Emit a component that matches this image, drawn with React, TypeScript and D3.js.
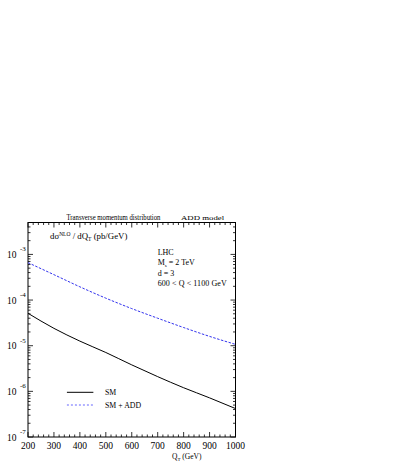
import React from "react";
import * as d3 from "d3";

const qT = [200, 300, 400, 500, 600, 700, 800, 900, 1000];
const smValues = [5.13e-5, 2.4e-5, 1.26e-5, 7.1e-6, 3.8e-6, 2.1e-6, 1.2e-6, 7.2e-7, 4.2e-7];
const addValues = [6.6e-4, 3.6e-4, 1.95e-4, 1.1e-4, 6.5e-5, 4.0e-5, 2.5e-5, 1.6e-5, 1.07e-5];
const xTickValues = [200, 300, 400, 500, 600, 700, 800, 900, 1000];
const yDecades = [-3, -4, -5, -6, -7];
const infoLines = ["LHC", "M_s = 2 TeV", "d = 3", "600 < Q <  1100 GeV"];

const W = 409, H = 463;
const L = 28, R = 235.5, T = 222.5, B = 437;
const FONT = "'Liberation Serif', 'Times New Roman', serif";

export default function App() {
  const x = d3.scaleLinear().domain([200, 1000]).range([L, R]);
  const y = d3.scaleLog().domain([1e-7, 5e-3]).range([B, T]);

  const line = d3.line<number>()
    .x((_, i) => x(qT[i]))
    .y((d) => y(d))
    .curve(d3.curveMonotoneX);

  const xMinor = d3.range(200, 1001, 20);
  const yMinor: number[] = [];
  for (let e = -7; e <= -3; e++) {
    for (let m = 1; m <= 9; m++) {
      const v = m * Math.pow(10, e);
      if (v >= 1e-7 && v <= 5e-3) yMinor.push(v);
    }
  }

  const ticks: JSX.Element[] = [];
  xMinor.forEach((v) => {
    const major = v % 100 === 0;
    const len = major ? 5 : 2.5;
    const px = x(v);
    ticks.push(<line key={"xb" + v} x1={px} x2={px} y1={B} y2={B - len} />);
    ticks.push(<line key={"xt" + v} x1={px} x2={px} y1={T} y2={T + len} />);
  });
  yMinor.forEach((v, i) => {
    const major = Math.abs(Math.log10(v) - Math.round(Math.log10(v))) < 1e-9;
    const len = major ? 5 : 2.5;
    const py = y(v);
    ticks.push(<line key={"yl" + i} x1={L} x2={L + len} y1={py} y2={py} />);
    ticks.push(<line key={"yr" + i} x1={R} x2={R - len} y1={py} y2={py} />);
  });

  return (
    <svg width={W} height={H} style={{ position: "absolute", left: 0, top: 0, background: "#fff" }} fontFamily={FONT}>
      <rect x={L} y={T} width={R - L} height={B - T} fill="none" stroke="#000" strokeWidth={1} />
      <g stroke="#000" strokeWidth={0.8}>{ticks}</g>

      {xTickValues.map((v) => (
        <text key={"xl" + v} x={x(v)} y={B + 12} fontSize={9.5} textAnchor="middle" fill="#000">{v}</text>
      ))}
      {yDecades.map((e) => (
        <g key={"yd" + e}>
          <text x={16.5} y={y(Math.pow(10, e)) + 3.5} fontSize={9.5} textAnchor="end" fill="#000">10</text>
          <text x={20} y={y(Math.pow(10, e)) - 3} fontSize={7} fill="#000">{e}</text>
        </g>
      ))}

      <text x={172} y={459} fontSize={7.5} fill="#000">Q<tspan fontSize={5} dy={1.5}>T</tspan><tspan dy={-1.5}> (GeV)</tspan></text>

      <g transform="translate(66.5,220) scale(0.79,1)">
        <text x={0} y={0} fontSize={8.5} fill="#000">Transverse momentum distribution</text>
      </g>
      <g transform="translate(181,220) scale(1.35,1)">
        <text x={0} y={0} fontSize={6.5} fill="#000">ADD model</text>
      </g>

      <text x={50} y={239} fontSize={8.8} fill="#000">dσ<tspan fontSize={5.5} dy={-3.5}>NLO</tspan><tspan dy={3.5}> / dQ</tspan><tspan fontSize={5.5} dy={1.5}>T</tspan><tspan dy={-1.5}> (pb/GeV)</tspan></text>

      <g fontSize={8} fill="#000">
        <text x={157.7} y={255}>{infoLines[0]}</text>
        <text x={157.7} y={265.3}>M<tspan fontSize={5} dy={1.5}>s</tspan><tspan dy={-1.5}> = 2 TeV</tspan></text>
        <text x={157.7} y={275.6}>{infoLines[2]}</text>
        <text x={157.7} y={285.9} textLength={69} lengthAdjust="spacing">{infoLines[3]}</text>
      </g>

      <path d={line(smValues) || ""} fill="none" stroke="#000" strokeWidth={1} />
      <path d={line(addValues) || ""} fill="none" stroke="#3333ee" strokeWidth={1} strokeDasharray="2.5,1.5" />

      <line x1={x(350)} x2={x(452)} y1={392.3} y2={392.3} stroke="#000" strokeWidth={1} />
      <text x={105} y={395} fontSize={7.8} fill="#000">SM</text>
      <line x1={x(350)} x2={x(452)} y1={405} y2={405} stroke="#6666ff" strokeWidth={1.2} strokeDasharray="2,2" />
      <text x={105} y={407.5} fontSize={7.8} fill="#000">SM + ADD</text>
    </svg>
  );
}
